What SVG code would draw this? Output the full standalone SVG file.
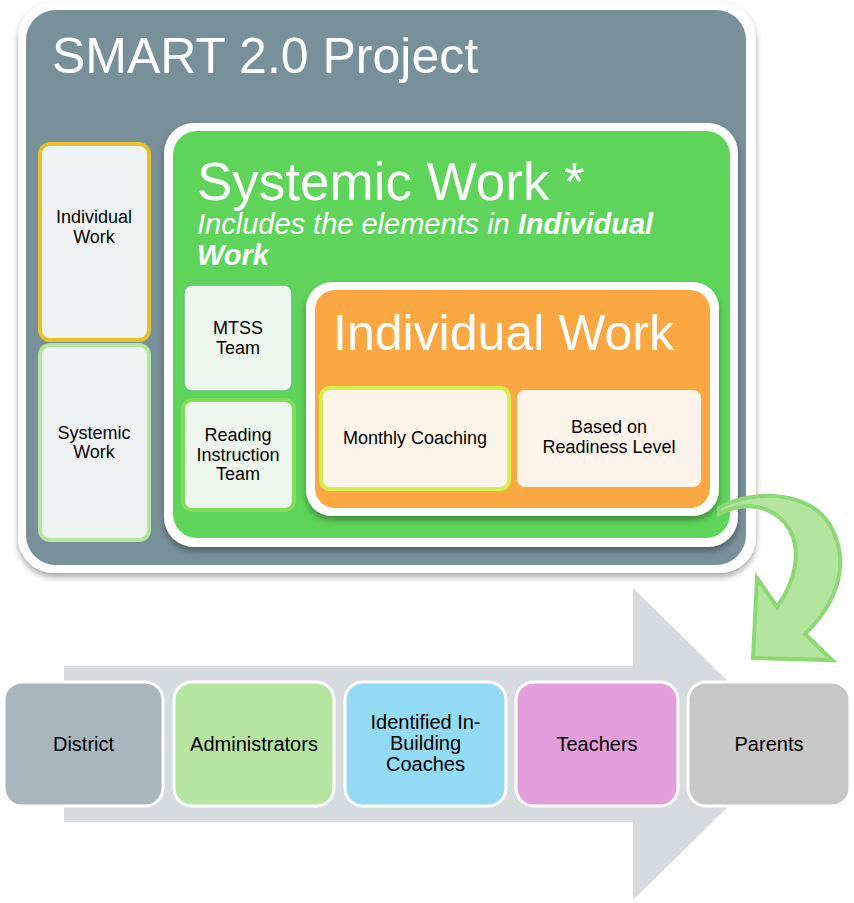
<svg xmlns="http://www.w3.org/2000/svg" width="854" height="903" viewBox="0 0 854 903">
<defs>
<filter id="sh" x="-10%" y="-10%" width="120%" height="120%">
<feGaussianBlur in="SourceAlpha" stdDeviation="3"/>
<feOffset dx="0" dy="4"/>
<feComponentTransfer><feFuncA type="linear" slope="0.35"/></feComponentTransfer>
<feMerge><feMergeNode/><feMergeNode in="SourceGraphic"/></feMerge>
</filter>
<style>
.t{font-family:"Liberation Sans",Arial,sans-serif;fill:#000;text-anchor:middle}
.s{font-size:18px}
.b{font-size:20px}
.w{font-family:"Liberation Sans",Arial,sans-serif;fill:#fff}
.step{stroke:#fff;stroke-width:3}
</style>
</defs>
<rect width="854" height="903" fill="#fff"/>

<g id="flow-arrow">
<polygon points="64,666 633,666 633,588 792,744 633,900 633,822 64,822" fill="#D5DBDE"/>
</g>

<g id="smart-project">
<rect x="18" y="2" width="738" height="571" rx="36" fill="#fff" filter="url(#sh)"/>
<rect x="26" y="10" width="720" height="555" rx="30" fill="#78909A"/>
<text class="w" x="52" y="73" font-size="50">SMART 2.0 Project</text>
</g>

<g id="left-individual">
<rect x="40" y="144" width="109" height="196" rx="10" fill="#EFF3F4" stroke="#E8C12A" stroke-width="4"/>
<text class="t s" x="94" y="223">Individual</text>
<text class="t s" x="94" y="243">Work</text>
</g>

<g id="left-systemic">
<rect x="40" y="345" width="109" height="195" rx="10" fill="#EFF3F4" stroke="#B5E5A0" stroke-width="4"/>
<text class="t s" x="94" y="439">Systemic</text>
<text class="t s" x="94" y="458">Work</text>
</g>

<g id="systemic-work">
<rect x="164" y="123" width="574" height="424" rx="30" fill="#fff" filter="url(#sh)"/>
<rect x="173" y="131" width="557" height="407" rx="24" fill="#5ED45A"/>
<text class="w" x="197" y="200" font-size="53">Systemic Work *</text>
<text class="w" x="197" y="234" font-size="29" font-style="italic">Includes the elements in <tspan font-weight="bold">Individual</tspan></text>
<text class="w" x="197" y="265" font-size="29" font-style="italic" font-weight="bold">Work</text>
</g>

<g id="mtss">
<rect x="184" y="285" width="108" height="106" rx="8" fill="#EEF7EE" stroke="#5CC77A" stroke-width="1.5"/>
<text class="t s" x="238" y="334">MTSS</text>
<text class="t s" x="238" y="354">Team</text>
</g>

<g id="reading">
<rect x="183" y="400" width="111" height="110" rx="9" fill="#EEF7EE" stroke="#80DD5C" stroke-width="4"/>
<text class="t s" x="238" y="441">Reading</text>
<text class="t s" x="238" y="461">Instruction</text>
<text class="t s" x="238" y="480">Team</text>
</g>

<g id="individual-work">
<rect x="306" y="282" width="413" height="234" rx="26" fill="#fff" filter="url(#sh)"/>
<rect x="315" y="290" width="395" height="218" rx="20" fill="#FBA842"/>
<text class="w" x="333" y="350" font-size="50">Individual Work</text>
</g>

<g id="monthly">
<rect x="321" y="388" width="188" height="101" rx="9" fill="#FEF5EA" stroke="#D6EE52" stroke-width="4"/>
<text class="t s" x="415" y="444">Monthly Coaching</text>
</g>

<g id="readiness">
<rect x="517" y="390" width="184" height="97" rx="8" fill="#FEF5EA"/>
<text class="t s" x="609" y="433">Based on</text>
<text class="t s" x="609" y="453">Readiness Level</text>
</g>

<g id="connectors">
<path d="M 719,514 C 745,500 775,505 790,530 C 800,550 798,578 777,607 L 757,578 L 753,658 L 832,660 L 805,634 C 840,600 850,560 830,525 C 810,492 755,488 719,508 Z" fill="#B3E59F" stroke="#8CD874" stroke-width="4" stroke-linejoin="miter"/>
</g>

<g id="district">
<rect class="step" x="4" y="682" width="159" height="124" rx="18" fill="#A9B6BD"/>
<text class="t b" x="83.5" y="751">District</text>
</g>
<g id="administrators">
<rect class="step" x="174" y="682" width="160" height="124" rx="18" fill="#B5E5A0"/>
<text class="t b" x="254" y="751">Administrators</text>
</g>
<g id="coaches">
<rect class="step" x="345" y="682" width="161" height="124" rx="18" fill="#93DBF5"/>
<text class="t b" x="425.5" y="729">Identified In-</text>
<text class="t b" x="425.5" y="750">Building</text>
<text class="t b" x="425.5" y="771">Coaches</text>
</g>
<g id="teachers">
<rect class="step" x="516" y="682" width="162" height="124" rx="18" fill="#E39EDB"/>
<text class="t b" x="597" y="751">Teachers</text>
</g>
<g id="parents">
<rect class="step" x="688" y="682" width="162" height="124" rx="18" fill="#C7C7C7"/>
<text class="t b" x="769" y="751">Parents</text>
</g>
</svg>
